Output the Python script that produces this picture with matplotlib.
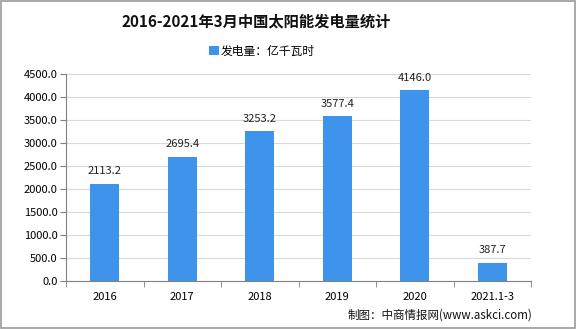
import matplotlib.pyplot as plt
import numpy as np

plt.rcParams['font.family'] = ['Noto Sans CJK SC', 'DejaVu Sans']

years = ['2016', '2017', '2018', '2019', '2020', '2021.1-3']
power = [2113.2, 2695.4, 3253.2, 3577.4, 4146.0, 387.7]

fig = plt.figure(figsize=(5.76, 3.29), dpi=100)
ax = fig.add_axes([0.1146, 0.1459, 0.8074, 0.629])

x = np.arange(len(years))
bars = ax.bar(x, power, width=0.37, color='#3d94ea', zorder=3, label='发电量：亿千瓦时')
for xi, v in zip(x, power):
    ax.text(xi, v + 170, f'{v:.1f}', ha='center', va='bottom', fontsize=8, color='#222222')

ax.set_xlim(-0.5, len(years) - 0.5)
ax.set_ylim(0, 4500)
ax.set_yticks(np.arange(0, 4501, 500))
ax.set_yticklabels([f'{t:.1f}' for t in np.arange(0, 4501, 500)], fontsize=8)
ax.yaxis.grid(True, color='#d9d9d9', linewidth=0.8, zorder=0)

ax.set_xticks(x)
ax.set_xticklabels(years, fontsize=8)
ax.tick_params(axis='x', length=0, pad=8)
ax.set_xticks(np.arange(-0.5, len(years)), minor=True)
ax.tick_params(axis='x', which='minor', length=4, color='#808080')
ax.tick_params(axis='y', length=4, color='#808080', pad=2)

for s in ['top', 'right']:
    ax.spines[s].set_visible(False)
ax.spines['left'].set_color('#808080')
ax.spines['bottom'].set_color('#808080')

fig.text(0.445, 0.935, '2016-2021年3月中国太阳能发电量统计', ha='center', va='center',
         fontsize=11, fontweight='bold', color='#111111')
fig.legend(loc='center', bbox_to_anchor=(0.455, 0.845), frameon=False, fontsize=8.5,
           handlelength=0.8, handleheight=0.8, handletextpad=0.2)
fig.text(0.924, 0.043, '制图：中商情报网(www.askci.com)', ha='right', va='center',
         fontsize=8.3, color='#111111')

fig.patches.append(plt.Rectangle((0.002, 0.003), 0.996, 0.994, transform=fig.transFigure,
                                 fill=False, edgecolor='#999999', linewidth=1.2))

fig.savefig('out.png', dpi=100)
